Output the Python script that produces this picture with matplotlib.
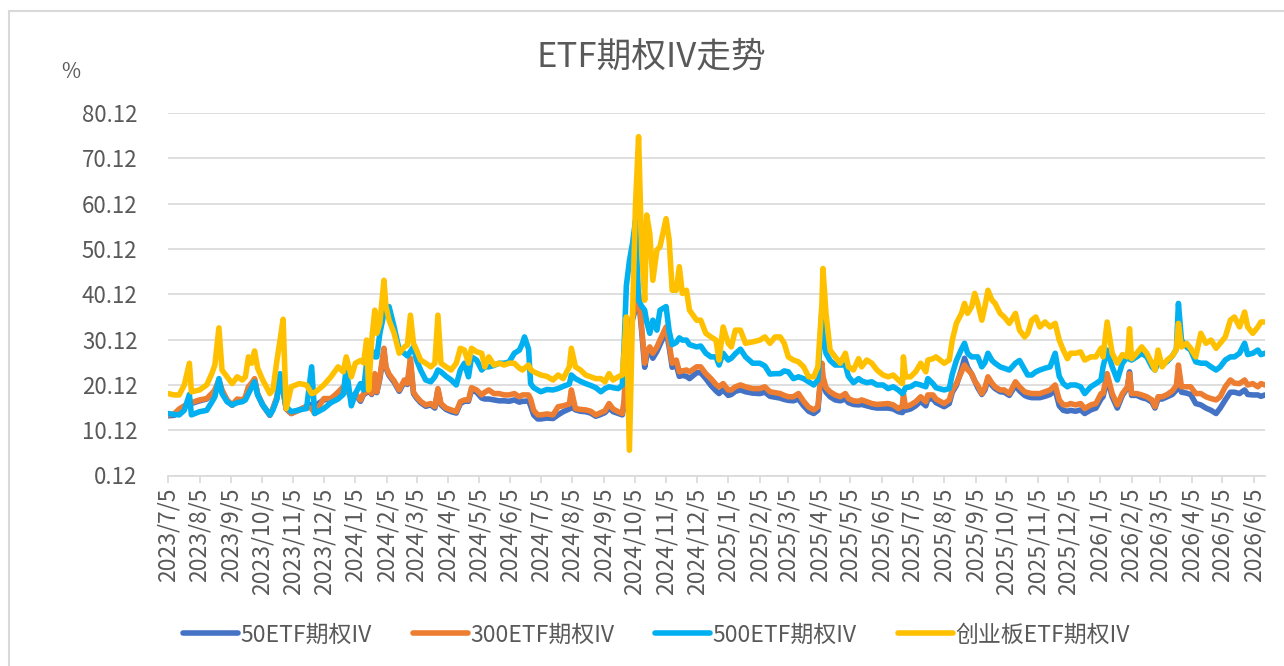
import numpy as np
import pandas as pd
import matplotlib
matplotlib.use("Agg")
import matplotlib.pyplot as plt
from matplotlib.patches import Rectangle

plt.rcParams['font.family'] = ['Noto Sans CJK SC', 'DejaVu Sans']

# ——— DATA ———
dates = [
    # 2023 H2
    "2023-07-05","2023-07-11","2023-07-16","2023-07-21","2023-07-26","2023-07-28","2023-08-05","2023-08-12","2023-08-17","2023-08-20",
    "2023-08-24","2023-08-27","2023-09-01","2023-09-06","2023-09-11","2023-09-16","2023-09-19","2023-09-22","2023-09-25","2023-09-28",
    "2023-10-01","2023-10-06","2023-10-13","2023-10-16","2023-10-20","2023-10-23","2023-10-26","2023-10-29","2023-11-03","2023-11-11",
    "2023-11-18","2023-11-23","2023-11-26","2023-12-05","2023-12-12","2023-12-19","2023-12-24","2023-12-27","2024-01-01",
    # 2024 H1
    "2024-01-05","2024-01-10","2024-01-13","2024-01-16","2024-01-18","2024-01-21","2024-01-24","2024-01-26","2024-01-29","2024-02-02",
    "2024-02-04","2024-02-07","2024-02-12","2024-02-17","2024-02-22","2024-02-25","2024-02-28","2024-03-02","2024-03-05","2024-03-09",
    "2024-03-14","2024-03-19","2024-03-23","2024-03-26","2024-03-29","2024-04-03","2024-04-08","2024-04-13","2024-04-17","2024-04-21",
    "2024-04-25","2024-04-28","2024-05-03","2024-05-08","2024-05-11","2024-05-15","2024-05-20","2024-05-25","2024-05-30","2024-06-04",
    "2024-06-09","2024-06-14","2024-06-17","2024-06-19","2024-06-23","2024-06-25","2024-06-28","2024-07-02",
    # 2024 H2
    "2024-07-05","2024-07-11","2024-07-17","2024-07-22","2024-07-27","2024-08-02","2024-08-04","2024-08-08","2024-08-13","2024-08-18",
    "2024-08-23","2024-08-28","2024-09-02","2024-09-06","2024-09-10","2024-09-14","2024-09-19","2024-09-23","2024-09-25","2024-09-27",
    "2024-09-30","2024-10-03","2024-10-06","2024-10-09","2024-10-12","2024-10-15","2024-10-17","2024-10-20","2024-10-23","2024-10-27",
    "2024-10-30","2024-11-05","2024-11-08","2024-11-11","2024-11-15","2024-11-18","2024-11-21","2024-11-25","2024-11-28","2024-12-05",
    "2024-12-09","2024-12-14","2024-12-19","2024-12-24","2024-12-27","2024-12-31","2025-01-05",
    # 2025 H1
    "2025-01-08","2025-01-12","2025-01-17","2025-01-22","2025-01-29","2025-02-05","2025-02-10","2025-02-15","2025-02-20","2025-02-25",
    "2025-03-01","2025-03-05","2025-03-10","2025-03-15","2025-03-20","2025-03-25","2025-03-30","2025-04-03","2025-04-07","2025-04-08",
    "2025-04-11","2025-04-15","2025-04-20","2025-04-25","2025-04-30","2025-05-03","2025-05-08","2025-05-13","2025-05-16","2025-05-21",
    "2025-05-26","2025-05-31","2025-06-06","2025-06-11","2025-06-16","2025-06-21","2025-06-25","2025-06-26","2025-06-28","2025-07-03",
    "2025-07-08","2025-07-13","2025-07-18",
    # 2025 H2
    "2025-07-20","2025-07-25","2025-07-28","2025-08-05","2025-08-10","2025-08-13","2025-08-17","2025-08-22","2025-08-25","2025-08-28",
    "2025-09-01","2025-09-04","2025-09-07","2025-09-11","2025-09-14","2025-09-17","2025-09-21","2025-09-24","2025-09-29","2025-10-03",
    "2025-10-08","2025-10-14","2025-10-18","2025-10-23","2025-10-26","2025-10-30","2025-11-03","2025-11-07","2025-11-12","2025-11-17",
    "2025-11-22","2025-11-26","2025-11-30","2025-12-04","2025-12-07","2025-12-12","2025-12-17","2025-12-21","2025-12-27","2026-01-01",
    "2026-01-06",
    # 2026
    "2026-01-08","2026-01-12","2026-01-17","2026-01-22","2026-01-27","2026-02-01","2026-02-03","2026-02-05","2026-02-10","2026-02-15",
    "2026-02-20","2026-02-25","2026-02-28","2026-03-03","2026-03-07","2026-03-12","2026-03-17","2026-03-21","2026-03-23","2026-03-26",
    "2026-03-31","2026-04-04","2026-04-09","2026-04-14","2026-04-19","2026-04-24","2026-04-29","2026-05-03","2026-05-08","2026-05-13",
    "2026-05-17","2026-05-22","2026-05-27","2026-05-30","2026-06-04","2026-06-09","2026-06-12","2026-06-16",
]

iv_50 = [
    13.3,13.4,14.5,15.4,16.0,16.0,16.6,17.0,18.0,18.8, 21.0,18.8,16.6,15.6,16.8,16.6,17.3,19.5,20.3,21.3,
    18.0,15.6,13.4,14.8,17.3,22.0,19.0,14.8,13.8,14.6, 15.4,15.8,15.5,16.8,17.0,18.3,19.5,19.4,17.2,
    18.0,16.5,18.0,18.4,18.8,18.0,22.0,18.4,21.5,27.5, 23.8,22.2,20.7,18.7,20.8,20.2,25.0,18.2,17.2,16.2,
    15.4,15.7,15.0,19.0,15.7,14.7,14.2,13.9,16.0,16.5, 16.5,19.0,18.5,17.2,17.0,17.0,16.8,16.6,16.6,16.5,
    16.8,16.3,16.5,16.5,16.6,15.5,13.5,12.6,
    12.6,12.8,12.7,13.5,14.2,14.8,15.3,14.6,14.3,14.2, 13.9,13.2,13.6,14.0,15.0,14.2,13.8,13.5,16.0,30.0,
    32.0,34.5,37.0,39.5,32.0,24.0,26.5,27.5,26.0,27.5, 29.0,32.0,28.5,24.0,24.5,22.0,22.2,22.0,21.5,22.8,
    22.8,21.5,20.0,18.8,18.2,19.0,17.8,
    18.0,18.7,19.0,18.6,18.3,18.2,18.5,17.6,17.4,17.2, 16.9,16.7,16.6,17.0,15.5,14.3,13.8,14.5,24.0,21.0,
    18.5,17.5,16.8,16.6,17.0,16.2,15.8,15.7,15.8,15.5, 15.2,15.0,15.0,15.0,14.8,14.2,14.0,14.5,14.5,14.8,
    15.5,16.5,15.5,
    17.0,17.0,16.2,15.3,16.0,18.5,20.0,23.5,26.0,24.0, 22.5,21.0,19.5,18.0,19.0,21.3,20.0,19.3,18.6,18.5,
    17.8,20.0,18.8,17.8,17.5,17.3,17.3,17.3,17.6,18.0, 19.0,15.5,14.5,14.3,14.5,14.3,14.6,13.8,14.6,15.0,
    17.0,
    17.5,21.5,17.5,15.0,17.8,19.5,23.0,17.8,17.8,17.3, 17.0,16.3,15.0,17.0,17.0,17.5,18.0,19.0,21.0,18.5,
    18.3,18.0,16.0,15.7,15.0,14.5,13.8,15.0,16.8,18.5, 18.5,18.2,19.0,18.0,17.9,17.9,17.6,17.9,
]

iv_300 = [
    13.5,13.7,14.8,15.5,16.0,16.2,16.8,17.1,18.2,19.0, 21.2,19.0,16.8,15.7,17.0,16.8,17.5,19.7,20.5,21.5,
    18.2,15.7,13.5,14.9,17.5,21.9,19.0,14.9,13.8,14.6, 15.3,14.9,13.8,17.1,17.1,18.5,19.7,19.5,17.5,
    18.2,16.8,18.2,18.6,19.0,18.2,22.6,18.6,21.9,28.2, 24.1,22.5,21.0,19.0,21.2,20.4,26.0,18.5,17.5,16.5,
    15.7,16.0,15.3,19.3,16.0,15.0,14.6,14.2,16.4,16.8, 16.8,19.5,19.0,17.9,18.5,19.0,18.2,18.2,17.9,17.9,
    18.2,17.5,17.9,17.9,17.9,17.0,14.5,13.5,
    13.5,13.7,13.5,15.3,15.5,15.9,19.0,14.9,14.7,14.6, 14.3,13.5,14.0,14.4,16.0,14.8,14.2,13.8,17.0,31.5,
    33.0,35.1,37.4,40.3,32.9,24.9,27.5,28.5,27.1,28.5, 30.0,32.9,29.3,24.9,25.6,23.0,23.2,23.4,23.0,24.1,
    24.1,22.6,21.5,20.2,19.7,20.4,19.0,
    19.0,19.7,20.1,19.7,19.3,19.3,19.7,18.6,18.4,18.2, 17.8,17.5,17.5,18.2,16.5,15.2,14.6,15.3,24.9,22.0,
    19.5,18.6,17.9,17.5,18.2,17.1,16.6,16.5,16.8,16.4, 16.0,15.8,15.9,16.0,15.7,14.9,15.5,18.2,15.3,15.7,
    16.4,17.5,16.4,
    17.9,17.9,17.0,16.0,16.8,19.0,20.4,23.0,24.5,23.5, 22.6,21.0,20.0,18.2,19.5,21.9,20.5,19.7,19.0,19.0,
    18.2,20.8,19.7,18.6,18.4,18.2,18.2,18.2,18.6,19.0, 20.1,16.8,15.7,15.7,16.0,15.7,16.0,14.9,15.7,16.0,
    18.2,
    18.2,22.6,18.2,15.7,18.2,19.7,22.6,18.2,18.2,17.9, 17.5,16.8,15.3,17.5,17.5,18.0,18.8,20.0,24.5,19.7,
    19.7,19.7,18.2,18.2,17.5,17.1,16.8,17.5,19.7,21.2, 20.5,20.4,21.2,20.1,20.4,19.7,20.4,20.1,
]

iv_500 = [
    13.8,13.6,13.5,14.5,18.0,13.5,14.2,14.5,16.3,17.5, 21.5,18.2,16.4,15.7,16.2,16.4,16.8,18.2,19.5,20.8,
    17.9,15.7,13.5,14.6,17.0,22.6,19.0,15.3,14.2,14.6, 14.9,24.1,13.8,14.9,16.2,17.0,18.0,23.8,15.5,
    18.2,20.4,19.0,25.0,27.1,27.8,26.3,26.3,31.5,35.9, 37.0,37.4,32.9,27.8,27.1,26.5,27.5,28.5,25.6,23.4,
    21.2,20.8,21.9,23.4,23.0,22.0,21.2,20.1,23.4,24.9, 21.9,26.3,25.6,23.4,24.1,24.1,24.4,24.9,24.9,25.2,
    27.1,27.8,29.3,30.7,28.0,20.4,19.5,19.0,
    18.6,19.1,19.0,19.3,19.8,20.3,22.3,21.5,20.9,20.4, 20.0,19.5,18.6,19.3,19.7,19.5,19.3,20.1,30.0,42.0,
    47.5,51.3,56.4,38.8,37.5,36.6,34.0,31.5,34.4,32.2, 36.6,37.4,32.0,29.0,29.5,30.5,30.0,30.0,29.0,28.5,
    28.7,27.1,26.3,26.3,24.5,27.1,25.6,
    26.0,27.0,28.0,26.3,24.9,24.9,24.3,22.5,22.6,22.6, 23.2,23.0,21.5,21.9,21.5,20.8,20.1,21.2,36.6,31.5,
    27.1,25.5,24.5,24.5,24.5,22.0,20.6,21.5,21.0,20.6, 20.8,20.1,20.1,19.3,19.7,19.0,18.2,18.5,19.5,19.7,
    20.4,20.1,19.7,
    21.5,20.4,19.5,19.0,19.3,22.5,25.5,28.0,29.3,27.1, 26.3,26.3,26.3,24.1,25.0,27.1,25.5,24.9,24.1,23.8,
    23.4,24.9,25.5,23.5,22.3,22.3,23.0,23.4,23.8,24.1, 27.1,22.0,20.4,19.7,20.1,20.1,19.7,18.2,19.7,20.4,
    21.2,
    24.1,27.8,24.1,21.2,24.9,26.3,25.8,25.6,26.3,27.1, 26.3,24.1,23.4,25.0,24.5,25.3,26.5,28.0,38.1,30.0,
    28.5,27.8,25.2,24.9,24.9,24.1,23.4,24.1,25.6,26.3, 26.3,27.1,29.3,26.8,27.1,27.8,26.8,27.1,
]

iv_cyb = [
    18.2,17.9,17.9,20.1,24.9,18.6,19.0,20.1,22.6,24.5, 32.7,23.4,21.9,20.4,21.9,21.2,21.9,26.3,24.9,27.6,
    23.8,21.2,18.2,19.0,25.6,30.0,34.6,14.9,19.7,20.4, 20.1,18.2,18.4,20.1,21.9,24.1,23.0,26.3,21.9,
    24.9,25.5,25.0,30.0,19.0,30.0,36.6,31.5,33.7,43.2, 37.4,34.4,31.5,27.1,28.5,28.9,35.5,29.3,27.8,25.6,
    24.9,24.1,24.9,35.5,24.9,24.1,23.4,24.9,28.2,27.8, 24.9,28.2,27.4,27.1,24.1,26.3,24.5,24.9,24.5,24.9,
    24.9,23.8,23.4,23.8,24.5,23.5,23.0,22.6,
    22.3,22.0,21.2,22.3,21.5,24.1,28.2,24.1,23.4,22.3, 21.9,21.5,21.5,20.8,22.6,21.2,21.9,22.3,28.0,35.1,
    5.7,35.0,60.0,74.9,49.9,38.8,57.6,53.5,43.2,49.9, 50.6,56.8,52.1,41.0,41.0,46.2,40.3,41.0,36.6,34.4,
    34.4,31.5,30.7,30.0,25.6,32.9,29.3,
    28.5,32.2,32.2,29.3,29.6,30.0,30.7,29.3,30.7,30.7, 29.3,26.3,25.6,25.2,24.1,21.9,21.9,24.1,38.0,45.8,
    35.9,27.8,26.3,24.9,27.1,24.1,23.4,25.9,24.1,25.6, 24.9,23.4,22.3,21.9,22.3,21.2,20.4,26.3,21.9,21.9,
    23.0,24.9,23.0,
    25.6,25.9,26.3,24.9,25.6,30.0,33.7,35.9,38.1,35.9, 37.4,40.3,38.1,34.4,37.4,41.0,38.8,38.1,35.9,35.1,
    33.7,35.9,32.2,30.7,31.5,34.4,35.1,32.9,34.0,32.9, 33.7,30.0,27.8,25.9,27.1,27.1,27.4,25.6,26.3,26.3,
    28.2,
    26.3,34.0,27.1,24.9,26.8,26.3,32.5,25.9,27.1,28.5, 27.1,24.9,23.4,27.8,24.1,25.6,26.5,28.0,33.7,28.5,
    29.3,28.2,26.3,31.5,29.3,30.0,28.2,29.3,30.7,34.4, 35.1,32.9,36.2,32.9,31.5,32.9,34.0,34.0,
]

series_names  = ["50ETF期权IV", "300ETF期权IV", "500ETF期权IV", "创业板ETF期权IV"]
series_colors = ["#4472C4", "#ED7D31", "#00B0F0", "#FFC000"]
y_ticks = [0.12, 10.12, 20.12, 30.12, 40.12, 50.12, 60.12, 70.12, 80.12]

TEXT = "#595959"
GRID = "#D9D9D9"
W, H = 1284, 666


def main():
    x = pd.to_datetime(dates)
    fig = plt.figure(figsize=(W / 100, H / 100), dpi=100)

    # outer chart border
    fig.patches.append(Rectangle((9 / W, -0.1), 1.2, 1.1 - 11 / H, transform=fig.transFigure,
                                 fill=False, edgecolor=GRID, lw=1.5))

    ax = fig.add_axes([168 / W, 1 - 475.5 / H, (1265 - 168) / W, (475.5 - 113) / H])

    for name, vals, col in zip(series_names, [iv_50, iv_300, iv_500, iv_cyb], series_colors):
        ax.plot(x, vals, color=col, lw=4.0, label=name,
                solid_joinstyle='round', solid_capstyle='round')

    ax.set_ylim(y_ticks[0], y_ticks[-1])
    ax.set_yticks(y_ticks)
    ax.set_yticklabels([f"{v:.2f}" for v in y_ticks])
    ax.grid(axis='y', color=GRID, lw=1.2)
    ax.set_axisbelow(True)

    months = [pd.Timestamp(2023, 7, 5) + pd.DateOffset(months=i) for i in range(36)]
    ax.set_xticks(months)
    ax.set_xticklabels([f"{d.year}/{d.month}/{d.day}" for d in months])
    ax.set_xlim(pd.Timestamp("2023-07-05"), pd.Timestamp("2026-06-16"))

    for s in ("top", "left", "right"):
        ax.spines[s].set_visible(False)
    ax.spines["bottom"].set_color(GRID)
    ax.spines["bottom"].set_linewidth(1.2)

    ax.tick_params(axis='y', length=0, pad=22, labelsize=16, labelcolor=TEXT)
    ax.tick_params(axis='x', direction='out', length=5, color=GRID, width=1.2,
                   labelrotation=90, labelsize=16.5, labelcolor=TEXT, pad=4)

    fig.text(651 / W, 1 - 57 / H, "ETF期权IV走势", ha='center', va='center',
             fontsize=25, color=TEXT)
    fig.text(71 / W, 1 - 72 / H, "%", ha='center', va='center', fontsize=15, color=TEXT)

    leg = fig.legend(loc='center', bbox_to_anchor=(656 / W, 1 - 635 / H), ncol=4,
                     frameon=False, fontsize=16.5, handlelength=2.4, handletextpad=0.1,
                     columnspacing=1.8)
    for t in leg.get_texts():
        t.set_color(TEXT)

    fig.savefig("out.png", dpi=100)


if __name__ == "__main__":
    main()
